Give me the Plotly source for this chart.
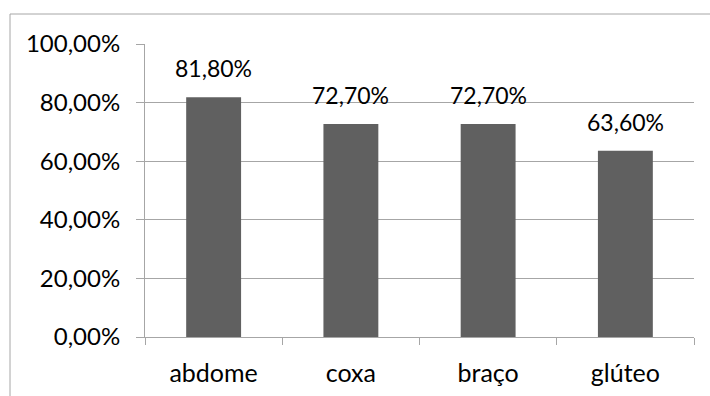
import plotly.graph_objects as go

categories = ["abdome", "coxa", "braço", "glúteo"]
values = [0.818, 0.727, 0.727, 0.636]
y_ticks = [0, 0.2, 0.4, 0.6, 0.8, 1.0]

W, H = 710, 396
L, R, T, B = 145, 16, 44, 59
pw, ph = W - L - R, H - T - B

FONT = "Lato"
GRID = "#a6a6a6"
BAR = "#606060"


def pct(v):
    return f"{v * 100:.2f}".replace(".", ",") + "%"


fig = go.Figure(
    go.Bar(
        x=categories,
        y=values,
        marker=dict(color=BAR, line=dict(width=0)),
        width=0.4,
        hoverinfo="skip",
    )
)

# value labels above each bar
for c, v in zip(categories, values):
    fig.add_annotation(
        x=c, y=v, text=pct(v), showarrow=False,
        yshift=29, font=dict(family=FONT, size=23, color="#000000"),
    )

# outer chart frame (left and top edges)
fig.add_shape(type="line", xref="paper", yref="paper",
              x0=(10 - L) / pw, x1=(10 - L) / pw,
              y0=(T + ph - H - 5) / ph, y1=(T + ph - 14) / ph,
              line=dict(color=GRID, width=1))
fig.add_shape(type="line", xref="paper", yref="paper",
              x0=(10 - L) / pw, x1=(W + 5 - L) / pw,
              y0=(T + ph - 14) / ph, y1=(T + ph - 14) / ph,
              line=dict(color=GRID, width=1))

fig.update_layout(
    width=W, height=H,
    margin=dict(l=L, r=R, t=T, b=B, pad=0, autoexpand=False),
    paper_bgcolor="white", plot_bgcolor="white",
    separators=",.",
    showlegend=False,
    bargap=0.6,
    font=dict(family=FONT, size=24, color="#000000"),
)
fig.update_xaxes(
    type="category",
    automargin=False,
    showline=True, linecolor=GRID, linewidth=1,
    ticks="outside", tickson="boundaries", ticklen=7, tickcolor=GRID,
    ticklabelstandoff=14,
    showgrid=False, zeroline=False,
    tickfont=dict(family=FONT, size=25),
)
fig.update_yaxes(
    range=[0, 1.0],
    automargin=False,
    tickvals=y_ticks,
    tickformat=".2%",
    showline=True, linecolor=GRID, linewidth=1,
    ticks="outside", ticklen=8, tickcolor=GRID,
    ticklabelstandoff=11,
    showgrid=True, gridcolor=GRID, gridwidth=1,
    zeroline=False,
    tickfont=dict(family=FONT, size=24),
)

fig.write_html("out.html")
